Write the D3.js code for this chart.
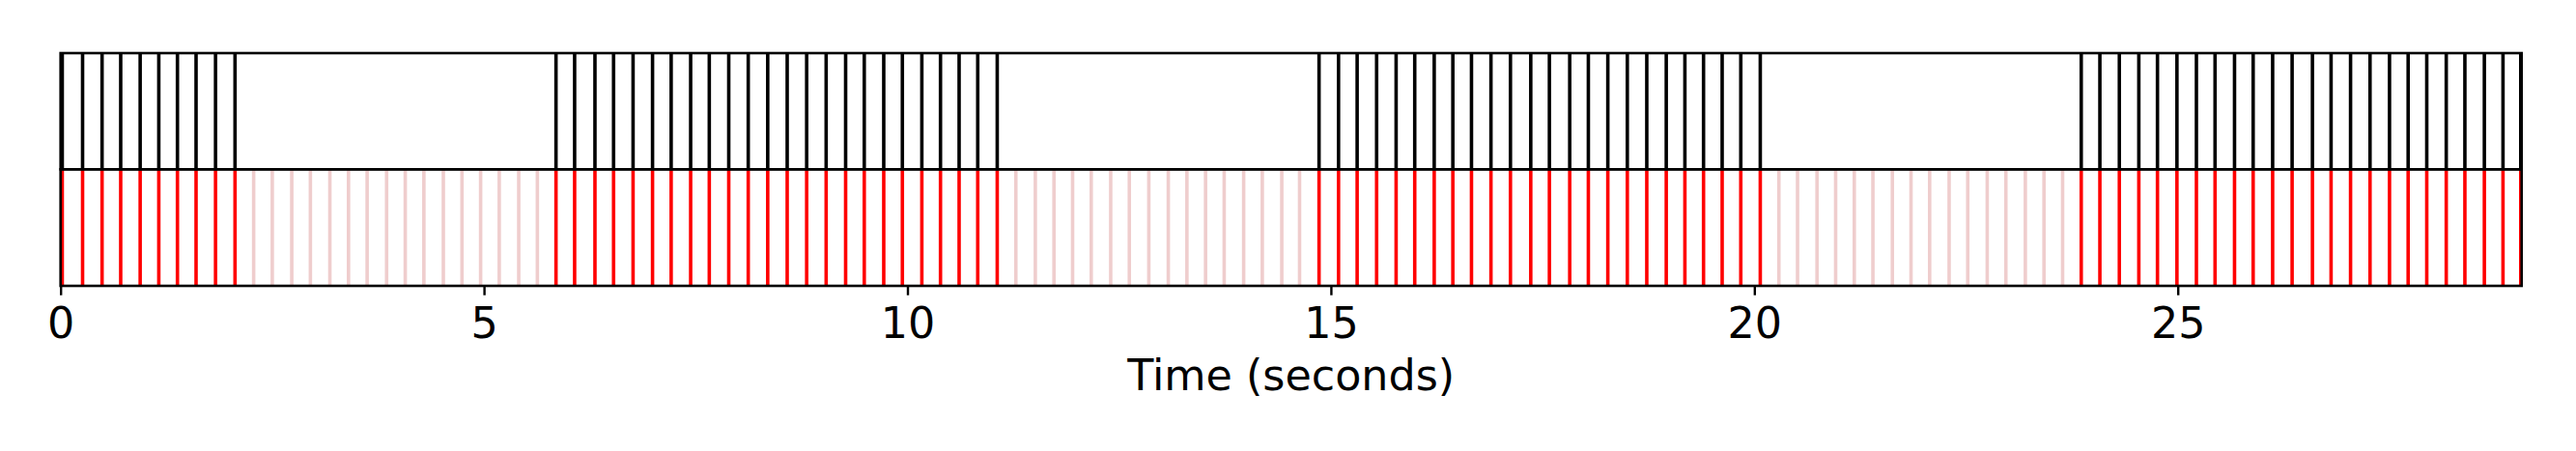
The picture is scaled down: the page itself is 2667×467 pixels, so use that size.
<!DOCTYPE html>
<html>
<head>
<meta charset="utf-8">
<script src="https://cdn.jsdelivr.net/npm/d3@7"></script>
<style>
  html, body { margin: 0; padding: 0; background: #ffffff; }
  svg { display: block; }
</style>
</head>
<body>
<svg id="chart" width="2667" height="467"></svg>
<script>
// Beat times (seconds) where the beat is active: drawn black in the top panel and red in the bottom panel
const activeBeats = [
  0.02, 0.26, 0.49, 0.71, 0.94, 1.16, 1.38, 1.60, 1.83, 2.06,
  5.85, 6.07, 6.31, 6.53, 6.76, 6.99, 7.21, 7.44, 7.66, 7.89, 8.12, 8.35,
  8.58, 8.81, 9.04, 9.27, 9.49, 9.72, 9.94, 10.17, 10.39, 10.61, 10.83, 11.06,
  14.86, 15.09, 15.31, 15.54, 15.77, 15.99, 16.22, 16.44, 16.66, 16.89, 17.12, 17.36,
  17.58, 17.82, 18.04, 18.27, 18.50, 18.73, 18.96, 19.18, 19.40, 19.62, 19.84, 20.07,
  23.86, 24.08, 24.31, 24.54, 24.76, 24.99, 25.22, 25.44, 25.67, 25.89, 26.12, 26.35,
  26.59, 26.81, 27.04, 27.27, 27.50, 27.72, 27.94, 28.17, 28.39, 28.62, 28.84, 29.05
];
// Beat times (seconds) of the grid that are inactive: drawn pale in the bottom panel
const inactiveBeats = [
  2.28, 2.50, 2.73, 2.95, 3.18, 3.40, 3.62, 3.85, 4.07, 4.29, 4.52, 4.74, 4.96, 5.18, 5.41, 5.63,
  11.28, 11.51, 11.73, 11.95, 12.17, 12.40, 12.62, 12.85, 13.08, 13.30, 13.52, 13.74, 13.97, 14.19, 14.42, 14.63,
  20.29, 20.51, 20.74, 20.96, 21.18, 21.40, 21.63, 21.85, 22.07, 22.30, 22.52, 22.75, 22.97, 23.20, 23.42, 23.64
];
const xDomain = [0, 29.06];
const xTicks = [0, 5, 10, 15, 20, 25];
const xLabel = "Time (seconds)";

const svg = d3.select("#chart");
const left = 62.7, right = 2610.7;
const topY0 = 55, topY1 = 175.3, botY0 = 175.3, botY1 = 296;

const x = d3.scaleLinear().domain(xDomain).range([left, right]);
const FONT = "DejaVu Sans, Verdana, sans-serif";
const LW = 3.6;

// Bottom panel: inactive (pale) then active (red)
const botG = svg.append("g");
botG.selectAll("line.inactive").data(inactiveBeats).enter().append("line")
  .attr("class", "inactive")
  .attr("x1", d => x(d)).attr("x2", d => x(d))
  .attr("y1", botY0).attr("y2", botY1)
  .attr("stroke", "rgb(239,205,205)").attr("stroke-width", LW);
botG.selectAll("line.active").data(activeBeats).enter().append("line")
  .attr("class", "active")
  .attr("x1", d => x(d)).attr("x2", d => x(d))
  .attr("y1", botY0).attr("y2", botY1)
  .attr("stroke", "#ff0000").attr("stroke-width", LW);

// Top panel: active beats in black
const topG = svg.append("g");
topG.selectAll("line.beat").data(activeBeats).enter().append("line")
  .attr("class", "beat")
  .attr("x1", d => x(d)).attr("x2", d => x(d))
  .attr("y1", topY0).attr("y2", topY1)
  .attr("stroke", "#000000").attr("stroke-width", LW);

// Frames (spines)
const SW = 2.6;
[[topY0, topY1], [botY0, botY1]].forEach(([y0, y1]) => {
  svg.append("rect")
    .attr("x", left).attr("y", y0)
    .attr("width", right - left).attr("height", y1 - y0)
    .attr("fill", "none").attr("stroke", "#000").attr("stroke-width", SW);
});

// Bottom axis
const axis = d3.axisBottom(x).tickValues(xTicks).tickFormat(d3.format("d"))
  .tickSize(9.7).tickPadding(12.8);
const ag = svg.append("g").attr("transform", `translate(0,${botY1})`).call(axis);
ag.select(".domain").remove();
ag.selectAll(".tick line").attr("stroke", "#000").attr("stroke-width", 2.4);
ag.selectAll(".tick text")
  .attr("fill", "#000")
  .style("font-family", FONT)
  .style("font-size", "44.4px");

svg.append("text")
  .attr("x", (left + right) / 2).attr("y", 404)
  .attr("text-anchor", "middle")
  .style("font-family", FONT)
  .style("font-size", "44.4px")
  .attr("fill", "#000")
  .text(xLabel);
</script>
</body>
</html>
